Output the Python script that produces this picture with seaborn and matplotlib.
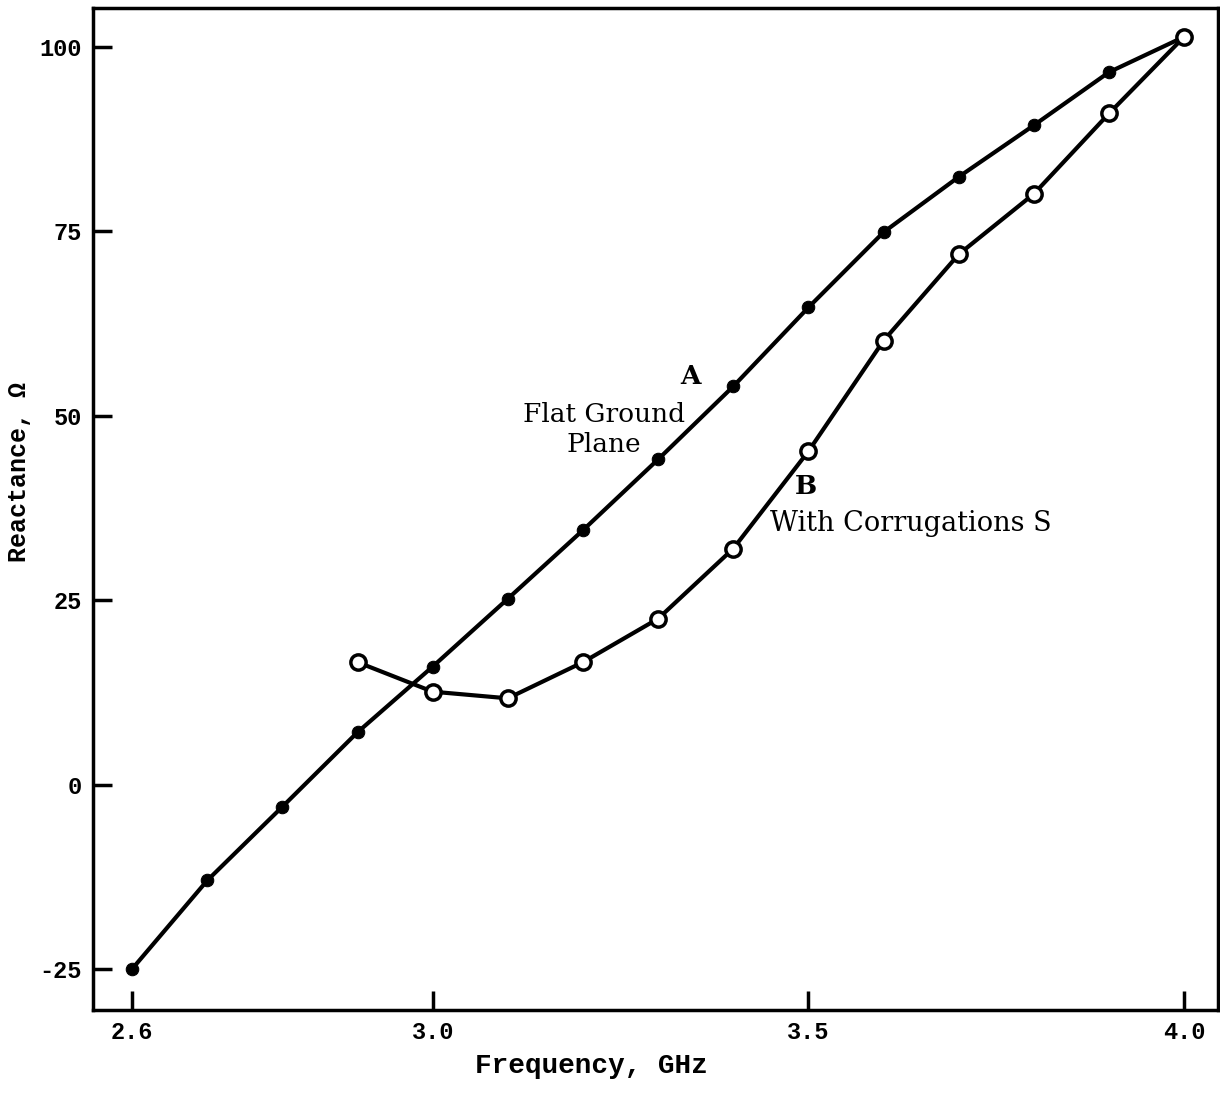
"""
Reactance vs frequency, flat ground plane vs corrugated
"""
import pandas as pd
import seaborn as sns
from matplotlib import pyplot as plt

sns.set_style("ticks")
plt.rcParams['font.family'] = ['DejaVu Serif', 'Liberation Serif']
plt.rcParams['text.color'] = 'black'

# curve A: flat ground plane (filled dots)
freq_a = [2.6, 2.7, 2.8, 2.9, 3.0, 3.1, 3.2, 3.3, 3.4, 3.5, 3.6, 3.7, 3.8, 3.9, 4.0]
react_a = [-25.0, -13.0, -3.0, 7.1, 16.0, 25.2, 34.5, 44.1, 54.0, 64.7, 74.9, 82.4, 89.4, 96.6, 101.4]

# curve B: with corrugations (open circles)
freq_b = [2.9, 3.0, 3.1, 3.2, 3.3, 3.4, 3.5, 3.6, 3.7, 3.8, 3.9, 4.0]
react_b = [16.6, 12.6, 11.7, 16.6, 22.5, 32.0, 45.2, 60.2, 71.9, 80.1, 91.0, 101.4]

x_ticks = [2.6, 3.0, 3.5, 4.0]
x_tick_labels = ['2.6', '3.0', '3.5', '4.0']
y_ticks = [-25, 0, 25, 50, 75, 100]
y_tick_labels = ['-25', '0', '25', '50', '75', '100']

mono = ['Liberation Mono', 'DejaVu Sans Mono']


def main():
    df_a = pd.DataFrame({'freq': freq_a, 'react': react_a})
    df_b = pd.DataFrame({'freq': freq_b, 'react': react_b})

    fig = plt.figure(figsize=(12.2, 10.94), dpi=100)
    ax = fig.add_axes([93 / 1220, 1 - 1010 / 1094, 1125 / 1220, 1002 / 1094])

    sns.lineplot(data=df_a, x='freq', y='react', ax=ax, color='black',
                 linewidth=3, marker='o', markersize=9,
                 markerfacecolor='black', markeredgecolor='black')
    sns.lineplot(data=df_b, x='freq', y='react', ax=ax, color='black',
                 linewidth=3, marker='o', markersize=11,
                 markerfacecolor='white', markeredgecolor='black',
                 markeredgewidth=2.5, sort=False)

    ax.set_xlim(2.548, 4.045)
    ax.set_ylim(-30.56, 105.3)
    ax.set_xticks(x_ticks)
    ax.set_xticklabels(x_tick_labels, family=mono, weight='bold', fontsize=17)
    ax.set_yticks(y_ticks)
    ax.set_yticklabels(y_tick_labels, family=mono, weight='bold', fontsize=17)
    ax.tick_params(direction='in', length=14, width=2.5, pad=8, color='black',
                   labelcolor='black')

    ax.set_xlabel('Frequency, GHz', family=mono, weight='bold', fontsize=20,
                  color='black')
    ax.set_ylabel('Reactance, Ω', family=mono, weight='bold', fontsize=18,
                  color='black')
    ax.xaxis.set_label_coords(0.443, -0.043)
    ax.yaxis.set_label_coords(-0.055, 0.537)

    for side in ['left', 'bottom', 'top', 'right']:
        ax.spines[side].set_visible(True)
        ax.spines[side].set_linewidth(2.5)
        ax.spines[side].set_color('black')

    ax.text(3.343, 55.3, 'A', fontsize=19, weight='bold', ha='center', va='center')
    ax.text(3.228, 48.1, 'Flat Ground\nPlane', fontsize=19, ha='center',
            va='center', linespacing=1.25)
    ax.text(3.497, 40.4, 'B', fontsize=19, weight='bold', ha='center', va='center')
    ax.text(3.449, 35.4, 'With Corrugations S', fontsize=19.5, ha='left',
            va='center')

    fig.savefig('out.png', dpi=100)


if __name__ == '__main__':
    main()
